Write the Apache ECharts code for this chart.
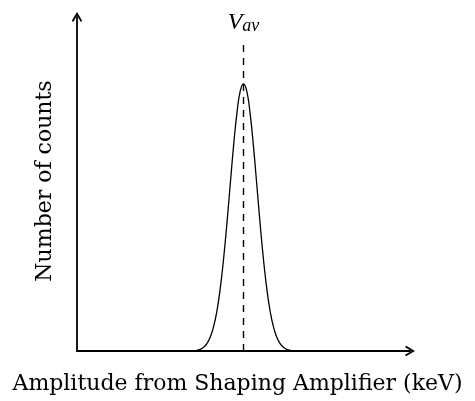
<!DOCTYPE html>
<html>
<head>
<meta charset="utf-8">
<script src="https://cdn.jsdelivr.net/npm/echarts@6/dist/echarts.min.js"></script>
<style>html,body{margin:0;padding:0;background:#fff}#c{width:475px;height:401px}</style>
</head>
<body>
<div id="c"></div>
<script>
// Amplitude positions (arbitrary units, axis 0..100) and counts (axis 0..100)
var amplitude = [34,35,36,37,38,39,40,41,42,43,44,45,46,47,48,49,50,51,52,53,54,55,56,57,58,59,60,61,62,63,64,65,66];
var counts    = [0,0.1,0.2,0.5,1.1,2.2,4.1,7.2,11.9,18.6,27.4,38.0,49.7,61.2,71.0,77.7,80,77.7,71.0,61.2,49.7,38.0,27.4,18.6,11.9,7.2,4.1,2.2,1.1,0.5,0.2,0.1,0];
var peakPosition = 50;
var dashedTop = 92;
var xAxisTitle = 'Amplitude from Shaping Amplifier (keV)';
var yAxisTitle = 'Number of counts';

var chart = echarts.init(document.getElementById('c'));
var arrowPath = 'path://M5,0 L10,8.5 L8.6,9.6 L5,3.4 L1.4,9.6 L0,8.5 Z';
var serif = 'DejaVu Serif';
chart.setOption({
  backgroundColor: '#fff',
  animation: false,
  grid: {left: 77, right: 65, top: 17, bottom: 50},
  xAxis: {
    type: 'value', min: 0, max: 100,
    name: xAxisTitle, nameLocation: 'middle', nameGap: 22,
    nameTextStyle: {fontFamily: serif, fontSize: 22, color: '#000', padding: [0, 12, 0, 0]},
    axisLine: {lineStyle: {color: '#000', width: 1.8}, symbol: ['none', arrowPath], symbolSize: [11, 10], symbolOffset: [0, 0]},
    axisTick: {show: false}, axisLabel: {show: false}, splitLine: {show: false}
  },
  yAxis: {
    type: 'value', min: 0, max: 100,
    name: yAxisTitle, nameLocation: 'middle', nameGap: 21,
    nameTextStyle: {fontFamily: serif, fontSize: 22, color: '#000', padding: [0, 0, 0, 6]},
    axisLine: {lineStyle: {color: '#000', width: 1.8}, symbol: ['none', arrowPath], symbolSize: [11, 10], symbolOffset: [0, 0]},
    axisTick: {show: false}, axisLabel: {show: false}, splitLine: {show: false}
  },
  series: [{
    type: 'line',
    data: amplitude.map(function (a, i) { return [a, counts[i]]; }),
    smooth: true,
    symbol: 'none',
    lineStyle: {color: '#000', width: 1.3},
    markLine: {
      silent: true, symbol: ['none', 'none'],
      lineStyle: {color: '#000', width: 1.4, type: [7, 6]},
      label: {
        show: true, position: 'end', distance: 8,
        formatter: '{v|V}{s|av}',
        rich: {
          v: {fontFamily: 'Liberation Serif', fontStyle: 'italic', fontSize: 24, color: '#000'},
          s: {fontFamily: 'Liberation Serif', fontStyle: 'italic', fontSize: 18, color: '#000', verticalAlign: 'bottom', padding: [8, 0, 0, 0]}
        }
      },
      data: [[{coord: [peakPosition, 0]}, {coord: [peakPosition, dashedTop]}]]
    }
  }]
});
</script>
</body>
</html>
